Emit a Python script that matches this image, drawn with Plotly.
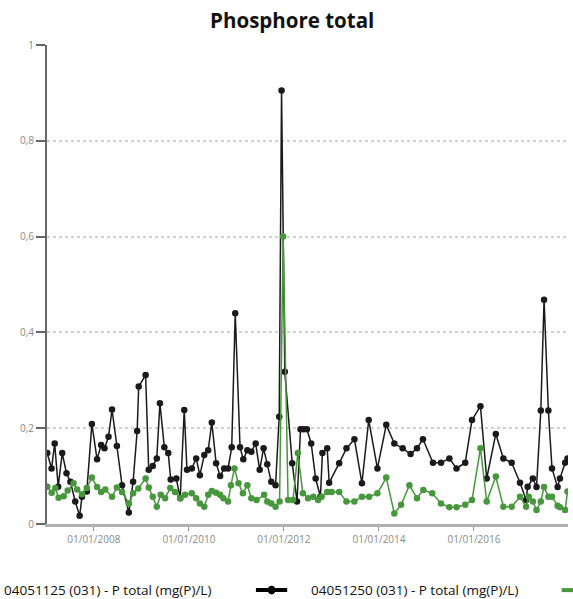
import plotly.graph_objects as go

# ---- data ----
dates_a = [
    "2007-01-08", "2007-02-10", "2007-03-06", "2007-04-02", "2007-05-03", "2007-06-05",
    "2007-07-05", "2007-08-11", "2007-09-14", "2007-10-02", "2007-11-08", "2007-12-17",
    "2008-01-26", "2008-02-26", "2008-03-23", "2008-04-23", "2008-05-20", "2008-06-26",
    "2008-08-05", "2008-09-26", "2008-10-29", "2008-11-29", "2008-12-11", "2009-02-02",
    "2009-02-26", "2009-03-29", "2009-04-29", "2009-05-23", "2009-06-26", "2009-07-26",
    "2009-08-14", "2009-09-26", "2009-10-26", "2009-11-26", "2009-12-17", "2010-01-23",
    "2010-02-26", "2010-03-26", "2010-04-29", "2010-05-29", "2010-06-26", "2010-07-29",
    "2010-08-29", "2010-09-29", "2010-10-29", "2010-11-26", "2010-12-23", "2011-01-29",
    "2011-02-23", "2011-03-26", "2011-04-26", "2011-05-29", "2011-06-29", "2011-07-29",
    "2011-08-26", "2011-09-26", "2011-10-29", "2011-11-26", "2011-12-14", "2012-01-08",
    "2012-03-05", "2012-04-11", "2012-05-08", "2012-06-01", "2012-06-26", "2012-07-29",
    "2012-09-01", "2012-10-08", "2012-10-23", "2012-11-29", "2012-12-14", "2013-03-01",
    "2013-04-26", "2013-06-26", "2013-08-23", "2013-10-14", "2013-12-20", "2014-02-26",
    "2014-04-29", "2014-07-02", "2014-09-01", "2014-10-20", "2014-12-05", "2015-02-20",
    "2015-04-23", "2015-06-26", "2015-08-20", "2015-10-26", "2015-12-17", "2016-02-20",
    "2016-04-08", "2016-06-17", "2016-08-14", "2016-10-17", "2016-12-20", "2017-02-05",
    "2017-02-17", "2017-03-29", "2017-04-26", "2017-05-29", "2017-06-23", "2017-07-26",
    "2017-08-23", "2017-10-05", "2017-10-23", "2017-12-02", "2017-12-20",
]
values_a = [
    0.148, 0.116, 0.168, 0.078, 0.148, 0.106,
    0.088, 0.047, 0.017, 0.057, 0.068, 0.209,
    0.135, 0.165, 0.158, 0.182, 0.239, 0.163,
    0.081, 0.024, 0.088, 0.194, 0.287, 0.311,
    0.113, 0.121, 0.137, 0.252, 0.160, 0.148,
    0.093, 0.095, 0.054, 0.238, 0.113, 0.116,
    0.137, 0.102, 0.144, 0.154, 0.212, 0.127,
    0.100, 0.116, 0.116, 0.160, 0.440, 0.160,
    0.135, 0.154, 0.151, 0.168, 0.113, 0.158,
    0.125, 0.088, 0.081, 0.224, 0.905, 0.318,
    0.127, 0.047, 0.198, 0.198, 0.198, 0.168,
    0.095, 0.057, 0.148, 0.158, 0.086, 0.127,
    0.158, 0.177, 0.085, 0.217, 0.116, 0.207,
    0.168, 0.158, 0.146, 0.158, 0.177, 0.128,
    0.128, 0.137, 0.116, 0.128, 0.217, 0.246,
    0.095, 0.188, 0.137, 0.128, 0.086, 0.050,
    0.078, 0.095, 0.077, 0.237, 0.468, 0.237,
    0.116, 0.077, 0.095, 0.128, 0.137,
]

dates_b = [
    "2007-01-08", "2007-02-11", "2007-03-11", "2007-04-05", "2007-05-14", "2007-06-14",
    "2007-07-29", "2007-08-26", "2007-10-02", "2007-11-08", "2007-12-17", "2008-01-26",
    "2008-02-26", "2008-03-29", "2008-05-20", "2008-06-26", "2008-08-05", "2008-09-26",
    "2008-10-29", "2008-12-08", "2009-02-02", "2009-02-26", "2009-03-29", "2009-04-29",
    "2009-05-29", "2009-07-02", "2009-08-11", "2009-09-17", "2009-10-26", "2009-12-02",
    "2010-01-23", "2010-02-26", "2010-03-26", "2010-04-29", "2010-05-29", "2010-06-26",
    "2010-07-29", "2010-08-29", "2010-09-23", "2010-10-29", "2010-11-20", "2010-12-17",
    "2011-01-17", "2011-02-20", "2011-03-26", "2011-04-26", "2011-06-05", "2011-08-02",
    "2011-08-26", "2011-09-26", "2011-10-29", "2011-11-29", "2011-12-26", "2012-02-02",
    "2012-03-11", "2012-04-17", "2012-05-26", "2012-07-05", "2012-08-14", "2012-09-20",
    "2012-10-17", "2012-11-29", "2013-01-02", "2013-03-01", "2013-04-26", "2013-06-26",
    "2013-08-23", "2013-10-17", "2013-12-20", "2014-02-26", "2014-04-29", "2014-06-20",
    "2014-08-23", "2014-10-20", "2014-12-08", "2015-02-14", "2015-04-23", "2015-06-26",
    "2015-08-20", "2015-10-26", "2015-12-17", "2016-02-20", "2016-04-08", "2016-06-17",
    "2016-08-14", "2016-10-17", "2016-12-20", "2017-02-05", "2017-02-26", "2017-03-29",
    "2017-04-26", "2017-05-29", "2017-06-23", "2017-07-26", "2017-08-23", "2017-10-05",
    "2017-10-23", "2017-12-02", "2017-12-20",
]
values_b = [
    0.078, 0.065, 0.075, 0.055, 0.058, 0.070,
    0.085, 0.072, 0.062, 0.075, 0.097, 0.077,
    0.067, 0.072, 0.057, 0.076, 0.067, 0.043,
    0.064, 0.074, 0.095, 0.076, 0.057, 0.036,
    0.061, 0.054, 0.075, 0.067, 0.054, 0.061,
    0.064, 0.054, 0.043, 0.036, 0.061, 0.069,
    0.065, 0.061, 0.054, 0.047, 0.081, 0.116,
    0.085, 0.064, 0.081, 0.054, 0.050, 0.061,
    0.047, 0.043, 0.036, 0.047, 0.600, 0.050,
    0.050, 0.148, 0.064, 0.054, 0.057, 0.050,
    0.057, 0.067, 0.067, 0.067, 0.047, 0.047,
    0.057, 0.057, 0.064, 0.097, 0.022, 0.040,
    0.081, 0.054, 0.071, 0.064, 0.043, 0.035,
    0.035, 0.040, 0.050, 0.158, 0.047, 0.099,
    0.036, 0.036, 0.057, 0.036, 0.057, 0.047,
    0.029, 0.047, 0.077, 0.057, 0.057, 0.038,
    0.035, 0.029, 0.068,
]

name_a = "04051125 (031) - P total (mg(P)/L)"
name_b = "04051250 (031) - P total (mg(P)/L)"
title_text = "Phosphore total"
y_ticks = [0, 0.2, 0.4, 0.6, 0.8, 1]

BLACK = "#1a1a1a"
GREEN = "#47973c"
FONT = "Open Sans"

fig = go.Figure()
fig.add_trace(go.Scatter(
    x=dates_a, y=values_a, name=name_a, mode="lines+markers",
    line=dict(color=BLACK, width=1.5),
    marker=dict(color=BLACK, size=6.5),
    showlegend=False,
))
fig.add_trace(go.Scatter(
    x=dates_b, y=values_b, name=name_b, mode="lines+markers",
    line=dict(color=GREEN, width=1.5),
    marker=dict(color=GREEN, size=6.5),
    showlegend=False,
))

fig.update_layout(
    width=573, height=599,
    margin=dict(l=47, r=5, t=45, b=75),
    paper_bgcolor="white", plot_bgcolor="white",
    separators=", ",
    font=dict(family=FONT, color="#777777", size=10),
    title=dict(text="<b>" + title_text + "</b>", x=0.51, xanchor="center",
               y=0.966, yanchor="middle",
               font=dict(family=FONT, size=20.5, color="#111111")),
    xaxis=dict(
        type="date",
        range=["2007-01-06", "2017-12-24"],
        tick0="2008-01-01", dtick="M24", tickformat="%d/%m/%Y",
        showgrid=False, zeroline=False,
        showline=True, linecolor="#b0b0b0", linewidth=3,
        ticks="outside", ticklen=4, tickcolor="#999999", tickwidth=1,
        tickfont=dict(size=10, color="#8a8a8a"),
    ),
    yaxis=dict(
        range=[0, 1], tickvals=y_ticks,
        showgrid=True, gridcolor="#d2d2d2", griddash="dot", gridwidth=1.5,
        zeroline=False,
        showline=True, linecolor="#666666", linewidth=2,
        ticks="outside", ticklen=9, tickcolor="#666666", tickwidth=2,
        tickfont=dict(size=10, color="#8a8a8a"),
    ),
)

# custom legend (text followed by symbol)
fig.add_annotation(xref="paper", yref="paper", x=-0.086, y=-0.138,
                   xanchor="left", yanchor="middle", showarrow=False,
                   text=name_a, font=dict(family=FONT, size=13.5, color="#111111"))
fig.add_annotation(xref="paper", yref="paper", x=0.502, y=-0.138,
                   xanchor="left", yanchor="middle", showarrow=False,
                   text=name_b, font=dict(family=FONT, size=13.5, color="#111111"))
fig.add_shape(type="line", xref="paper", yref="paper",
              x0=0.401, x1=0.461, y0=-0.138, y1=-0.138,
              line=dict(color="black", width=4))
fig.add_shape(type="circle", xref="paper", yref="paper",
              x0=0.424, x1=0.438, y0=-0.147, y1=-0.129,
              fillcolor="black", line=dict(color="black", width=0))
fig.add_shape(type="line", xref="paper", yref="paper",
              x0=0.988, x1=1.02, y0=-0.138, y1=-0.138,
              line=dict(color=GREEN, width=4))

fig.write_html("out.html",
               config={"displayModeBar": False},
               post_script="document.body.style.margin='0';document.body.style.overflow='hidden';")
